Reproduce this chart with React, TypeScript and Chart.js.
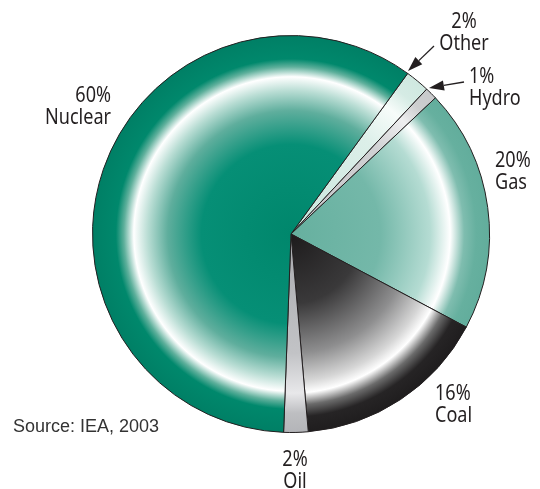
import React, { useEffect, useRef } from 'react';
import { Chart, registerables } from 'chart.js';

Chart.register(...registerables);

// ---- data ----
const categories = ['Other', 'Hydro', 'Gas', 'Coal', 'Oil', 'Nuclear'];
const shares = [2, 1, 20, 16, 2, 60];
const sourceNote = 'Source: IEA, 2003';

// ---- styles ----
const gradientStops: [number, string][][] = [
  // Other
  [[0, '#c9e6dd'], [0.6, '#dcefe9'], [0.8, '#f7fcfa'], [0.9, '#d5ebe4'], [1, '#cfe8e0']],
  // Hydro
  [[0, '#c4c5c8'], [0.6, '#d0d1d3'], [0.8, '#eeeeef'], [0.9, '#cdcecf'], [1, '#c8c9cb']],
  // Gas
  [[0, '#66b09f'], [0.45, '#74b8a9'], [0.7, '#b5dcd3'], [0.8, '#ffffff'], [0.87, '#7fbdaf'], [0.93, '#66b09f'], [1, '#62ad9c']],
  // Coal
  [[0, '#1d1b1c'], [0.35, '#3a393a'], [0.6, '#8e8e8f'], [0.74, '#d6d6d6'], [0.8, '#ffffff'], [0.86, '#6b6b6b'], [0.92, '#262425'], [1, '#1f1d1e']],
  // Oil
  [[0, '#a9aaae'], [0.6, '#c2c3c6'], [0.8, '#e8e8ea'], [0.9, '#bdbec1'], [1, '#b3b4b8']],
  // Nuclear
  [[0, '#00876c'], [0.45, '#068f76'], [0.62, '#5fae9d'], [0.72, '#b9ddd4'], [0.79, '#ffffff'], [0.84, '#5fb09c'], [0.88, '#00886c'], [1, '#007f65']],
];

const labelLayout: Record<string, { x: number; y: number; align: CanvasTextAlign; arrow?: number[] }> = {
  Other: { x: 464, y: 28, align: 'center', arrow: [434, 46, 408, 71] },
  Hydro: { x: 469, y: 83, align: 'left', arrow: [464, 82, 429, 88] },
  Gas: { x: 495, y: 167, align: 'left' },
  Coal: { x: 435, y: 400, align: 'left' },
  Oil: { x: 295, y: 466, align: 'center' },
  Nuclear: { x: 111, y: 102, align: 'right' },
};

function makeGradient(chart: any, stops: [number, string][]) {
  const area = chart.chartArea;
  if (!area) return stops[0][1];
  const cx = (area.left + area.right) / 2;
  const cy = (area.top + area.bottom) / 2;
  const r = Math.min(area.right - area.left, area.bottom - area.top) / 2;
  const g = chart.ctx.createRadialGradient(cx, cy, 0, cx, cy, r);
  stops.forEach(([o, c]) => g.addColorStop(o, c));
  return g;
}

function drawCondensed(ctx: CanvasRenderingContext2D, text: string, x: number, y: number, align: CanvasTextAlign) {
  ctx.save();
  ctx.translate(x, y);
  ctx.scale(0.86, 1);
  ctx.textAlign = align;
  ctx.fillText(text, 0, 0);
  ctx.restore();
}

function drawArrow(ctx: CanvasRenderingContext2D, a: number[]) {
  const [x1, y1, x2, y2] = a;
  const ang = Math.atan2(y2 - y1, x2 - x1);
  const headLen = 15;
  const halfW = 5;
  const bx = x2 - headLen * Math.cos(ang);
  const by = y2 - headLen * Math.sin(ang);
  ctx.save();
  ctx.strokeStyle = '#231f20';
  ctx.fillStyle = '#231f20';
  ctx.lineWidth = 1.3;
  ctx.beginPath();
  ctx.moveTo(x1, y1);
  ctx.lineTo(bx, by);
  ctx.stroke();
  ctx.beginPath();
  ctx.moveTo(x2, y2);
  ctx.lineTo(bx + halfW * Math.sin(ang), by - halfW * Math.cos(ang));
  ctx.lineTo(bx - halfW * Math.sin(ang), by + halfW * Math.cos(ang));
  ctx.closePath();
  ctx.fill();
  ctx.restore();
}

const labelPlugin = {
  id: 'pieLabels',
  afterDraw(chart: any) {
    const ctx: CanvasRenderingContext2D = chart.ctx;
    ctx.save();
    ctx.fillStyle = '#231f20';
    ctx.textBaseline = 'alphabetic';
    ctx.font = '21px "Noto Sans"';
    categories.forEach((cat, i) => {
      const L = labelLayout[cat];
      if (!L) return;
      drawCondensed(ctx, `${shares[i]}%`, L.x, L.y, L.align);
      drawCondensed(ctx, cat, L.x, L.y + 22, L.align);
      if (L.arrow) drawArrow(ctx, L.arrow);
    });
    ctx.font = '18px "Liberation Sans", Arial, sans-serif';
    ctx.fillStyle = '#333333';
    ctx.textAlign = 'left';
    ctx.fillText(sourceNote, 13, 432);
    ctx.restore();
  },
};

export default function App() {
  const ref = useRef<HTMLCanvasElement | null>(null);
  useEffect(() => {
    document.body.style.margin = '0';
    const canvas = ref.current;
    if (!canvas) return;
    const chart = new Chart(canvas, {
      type: 'pie',
      data: {
        labels: categories,
        datasets: [
          {
            data: shares,
            backgroundColor: (c: any) => makeGradient(c.chart, gradientStops[c.dataIndex] || gradientStops[0]),
            borderColor: '#231f20',
            borderWidth: 1,
            borderJoinStyle: 'miter',
          } as any,
        ],
      },
      options: {
        responsive: false,
        animation: false,
        rotation: 36,
        layout: { padding: { left: 92, right: 50, top: 35, bottom: 56 } },
        plugins: { legend: { display: false }, tooltip: { enabled: false } },
      },
      plugins: [labelPlugin],
    });
    return () => chart.destroy();
  }, []);
  return (
    <div style={{ width: 540, height: 489, background: '#ffffff' }}>
      <canvas ref={ref} width={540} height={489} style={{ display: 'block' }} />
    </div>
  );
}
